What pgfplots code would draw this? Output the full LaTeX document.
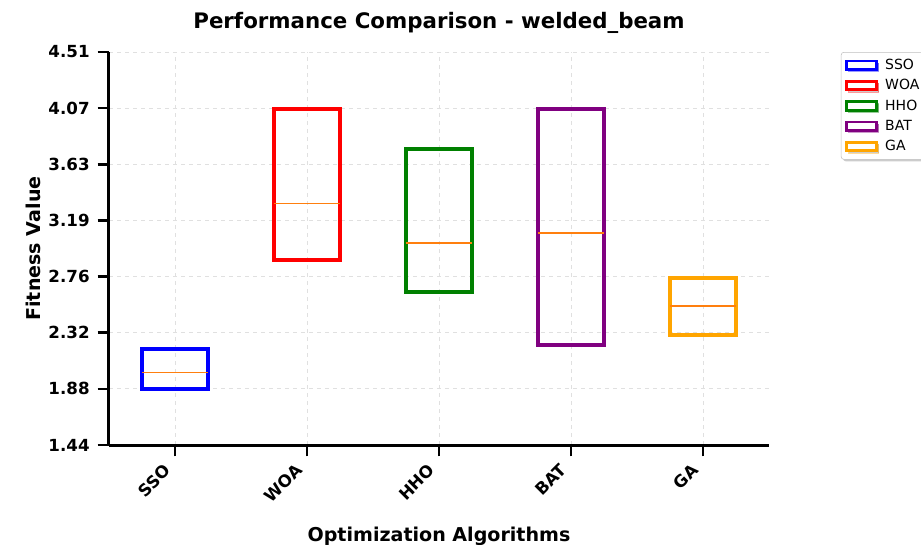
\documentclass[border=0pt]{standalone}
\usepackage{fontspec}
\setmainfont{DejaVu Sans}
\usepackage{pgfplots}
\pgfplotsset{compat=1.18}
\usepgfplotslibrary{statistics}
\usetikzlibrary{shadows}
\definecolor{cSSO}{RGB}{0,0,255}
\definecolor{cWOA}{RGB}{255,0,0}
\definecolor{cHHO}{RGB}{0,128,0}
\definecolor{cBAT}{RGB}{128,0,128}
\definecolor{cGA}{RGB}{255,165,0}
\definecolor{cMed}{RGB}{255,127,14}
\begin{document}
\begin{tikzpicture}
\begin{axis}[
  scale only axis, width=495pt, height=294.75pt,
  xmin=0.5, xmax=5.5, ymin=1.44, ymax=4.51,
  axis lines*=left,
  axis line style={line width=2.25pt, black},
  xtick={1,2,3,4,5}, xticklabels={SSO,WOA,HHO,BAT,GA},
  ytick={1.44,1.87857,2.31714,2.75571,3.19429,3.63286,4.07143,4.51},
  yticklabels={1.44,1.88,2.32,2.76,3.19,3.63,4.07,4.51},
  x tick label style={xshift=-9pt, rotate=45, anchor=north east, font=\bfseries\fontsize{12.5}{14}\selectfont},
  y tick label style={xshift=-2.5pt, font=\bfseries\fontsize{12.5}{14}\selectfont},
  tick style={line width=2pt, black}, major tick length=8.5pt, tick align=outside,
  grid=major, grid style={dashed, black!12, line width=0.6pt},
  boxplot/draw direction=y,
  title={Performance Comparison - welded\_beam},
  title style={at={(axis description cs:0.5,1.054)}, anchor=center, font=\bfseries\fontsize{16}{19}\selectfont},
  xlabel={Optimization Algorithms},
  xlabel style={at={(axis description cs:0.5,-0.232)}, anchor=center, font=\bfseries\fontsize{14.3}{17}\selectfont},
  ylabel={Fitness Value},
  ylabel style={at={(axis description cs:-0.1152,0.5)}, anchor=center, font=\bfseries\fontsize{14.3}{17}\selectfont},
  legend style={at={(axis description cs:1.109,1.0)}, anchor=north west, draw=black!25, fill=white, rounded corners=2pt, drop shadow={shadow xshift=1.5pt, shadow yshift=-1.5pt, opacity=0.4}, font=\fontsize{10.5}{12}\selectfont, row sep=2pt, inner sep=3pt, nodes={inner xsep=5.5pt}},
  legend cell align=left,
  legend image code/.code={\draw[#1, line width=2pt, fill=white, sharp corners] (0pt,-3.2pt) rectangle (22.5pt,3.2pt);},
]
\addlegendimage{draw=cSSO}\addlegendentry{SSO}
\addlegendimage{draw=cWOA}\addlegendentry{WOA}
\addlegendimage{draw=cHHO}\addlegendentry{HHO}
\addlegendimage{draw=cBAT}\addlegendentry{BAT}
\addlegendimage{draw=cGA}\addlegendentry{GA}
\addplot[forget plot, draw=cSSO, line width=2.6pt, boxplot/every median/.style={draw=cMed, line width=0.8pt},
  boxplot prepared={draw position=1, box extend=0.5, median=2.010, lower quartile=1.877, upper quartile=2.190, lower whisker=1.877, upper whisker=2.190, whisker extend=0}] coordinates {};
\addplot[forget plot, draw=cWOA, line width=2.6pt, boxplot/every median/.style={draw=cMed, line width=0.8pt},
  boxplot prepared={draw position=2, box extend=0.5, median=3.323, lower quartile=2.885, upper quartile=4.065, lower whisker=2.885, upper whisker=4.065, whisker extend=0}] coordinates {};
\addplot[forget plot, draw=cHHO, line width=2.6pt, boxplot/every median/.style={draw=cMed, line width=0.8pt},
  boxplot prepared={draw position=3, box extend=0.5, median=3.018, lower quartile=2.635, upper quartile=3.753, lower whisker=2.635, upper whisker=3.753, whisker extend=0}] coordinates {};
\addplot[forget plot, draw=cBAT, line width=2.6pt, boxplot/every median/.style={draw=cMed, line width=0.8pt},
  boxplot prepared={draw position=4, box extend=0.5, median=3.096, lower quartile=2.221, upper quartile=4.065, lower whisker=2.221, upper whisker=4.065, whisker extend=0}] coordinates {};
\addplot[forget plot, draw=cGA, line width=2.6pt, boxplot/every median/.style={draw=cMed, line width=0.8pt},
  boxplot prepared={draw position=5, box extend=0.5, median=2.526, lower quartile=2.299, upper quartile=2.745, lower whisker=2.299, upper whisker=2.745, whisker extend=0}] coordinates {};
\coordinate (O) at (rel axis cs:0,0);
\end{axis}
\pgfresetboundingbox
\useasboundingbox ([xshift=-81.75pt,yshift=-74.25pt]O) rectangle ([xshift=609pt,yshift=333.75pt]O);
\end{tikzpicture}
\end{document}
